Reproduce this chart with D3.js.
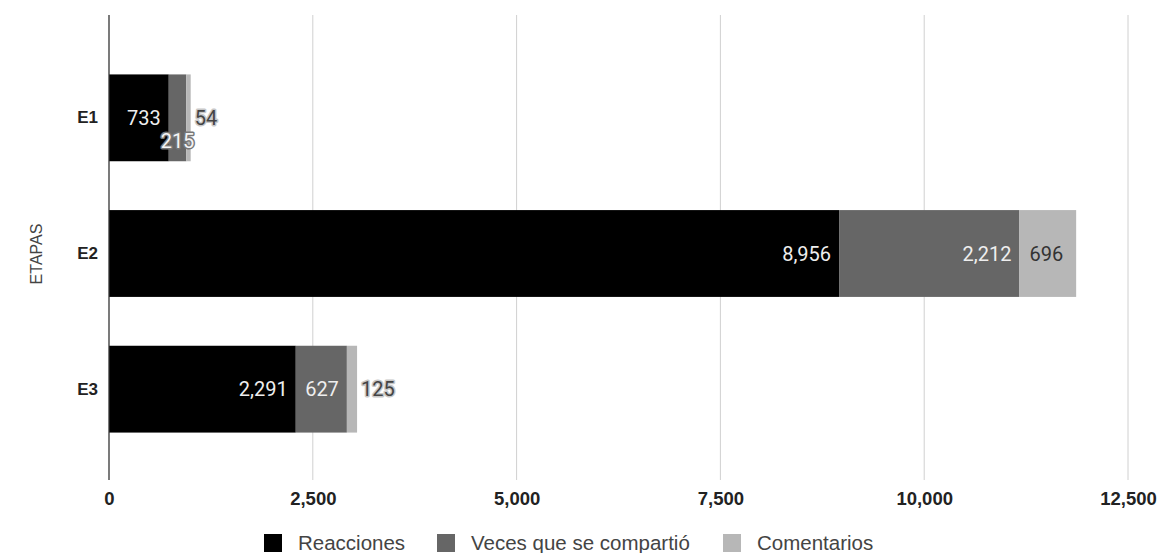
<!DOCTYPE html>
<html><head><meta charset="utf-8">
<script src="https://cdn.jsdelivr.net/npm/d3@7"></script>
<style>body{margin:0;background:#fff}</style>
</head><body>
<svg id="c" width="1162" height="553"></svg>
<script>
const categories = ["E1", "E2", "E3"];
const seriesNames = ["Reacciones", "Veces que se compartió", "Comentarios"];
const reacciones = [733, 8956, 2291];
const compartido = [215, 2212, 627];
const comentarios = [54, 696, 125];
const tickValues = [0, 2500, 5000, 7500, 10000, 12500];
const colors = ["#000000", "#666666", "#b7b7b7"];

const svg = d3.select("#c");
const x = d3.scaleLinear().domain([0, 12500]).range([109, 1128]);
const y = d3.scaleBand().domain(categories).range([50, 457]).paddingInner(0.36).paddingOuter(0.18);

const rows = categories.map((c, i) => ({cat: c, vals: [reacciones[i], compartido[i], comentarios[i]]}));

// gridlines
svg.append("g").selectAll("line").data(tickValues.slice(1)).join("line")
  .attr("x1", d => x(d)).attr("x2", d => x(d)).attr("y1", 15).attr("y2", 480)
  .attr("stroke", "#d0d0d0").attr("stroke-width", 1);

// bars
rows.forEach(r => {
  let acc = 0;
  r.vals.forEach((v, j) => {
    svg.append("rect").attr("x", x(acc)).attr("y", y(r.cat))
      .attr("width", x(acc + v) - x(acc)).attr("height", y.bandwidth())
      .attr("fill", colors[j]);
    acc += v;
  });
});

// axis line
svg.append("line").attr("x1", x(0)).attr("x2", x(0)).attr("y1", 15).attr("y2", 480)
  .attr("stroke", "#333").attr("stroke-width", 1.3);

// x tick labels
const xa = d3.axisBottom(x).tickValues(tickValues).tickFormat(d3.format(",")).tickSize(0).tickPadding(0);
const gx = svg.append("g").attr("transform", "translate(0,499)").call(xa);
gx.select(".domain").remove();
gx.selectAll("text").attr("font-family", "Liberation Sans, Arial, sans-serif")
  .attr("font-size", 18.5).attr("font-weight", "bold").attr("fill", "#222").attr("dy", "0.35em");

// y labels
const ya = d3.axisLeft(y).tickSize(0).tickPadding(11);
const gy = svg.append("g").attr("transform", `translate(${x(0)},0)`).call(ya);
gy.select(".domain").remove();
gy.selectAll("text").attr("font-family", "Liberation Sans, Arial, sans-serif")
  .attr("font-size", 17).attr("font-weight", "bold").attr("fill", "#222");

// y title
svg.append("text").attr("transform", "translate(36,254) rotate(-90)")
  .attr("text-anchor", "middle").attr("dy", "0.35em").attr("font-family", "Liberation Sans, Arial, sans-serif")
  .attr("font-size", 16).attr("fill", "#444").text("ETAPAS");

// data labels
const fmt = d3.format(",");
const lblFont = "Roboto, Liberation Sans, sans-serif";
const fs = 20;
function label(xp, yp, txt, anchor, fill, halo) {
  if (halo) {
    svg.append("text").attr("x", xp).attr("y", yp).attr("text-anchor", anchor)
      .attr("dy", "0.36em").attr("font-family", lblFont).attr("font-size", fs)
      .attr("stroke", halo).attr("stroke-width", 3).attr("stroke-linejoin", "round")
      .attr("fill", halo).text(txt);
  }
  svg.append("text").attr("x", xp).attr("y", yp).attr("text-anchor", anchor)
    .attr("dy", "0.36em").attr("font-family", lblFont).attr("font-size", fs)
    .attr("fill", fill).text(txt);
}
rows.forEach(r => {
  const cy = y(r.cat) + y.bandwidth() / 2;
  let acc = 0;
  r.vals.forEach((v, j) => {
    const x0 = x(acc), x1 = x(acc + v);
    const txt = fmt(v);
    const w = x1 - x0;
    const need = txt.length * 11 + 12;
    if (w >= need) {
      label(x1 - (j === 2 ? 13 : 8), cy, txt, "end", j === 2 ? "#333" : "#eeeeee", null);
    } else if (j === 1) {
      label((x0 + x1) / 2, cy + 23, txt, "middle", "#f4f4f4", "#777");
    } else {
      label(x1 + 4, cy, txt, "start", "#444", "#c8c8c8");
    }
    acc += v;
  });
});

// legend
const legX = [264, 437, 723];
const lg = svg.append("g");
seriesNames.forEach((s, i) => {
  lg.append("rect").attr("x", legX[i]).attr("y", 534).attr("width", 18).attr("height", 18).attr("fill", colors[i]);
  lg.append("text").attr("x", legX[i] + 34).attr("y", 543).attr("dy", "0.35em")
    .attr("font-family", "Liberation Sans, Arial, sans-serif").attr("font-size", 20.5)
    .attr("fill", "#444").text(s);
});
</script>
</body></html>
